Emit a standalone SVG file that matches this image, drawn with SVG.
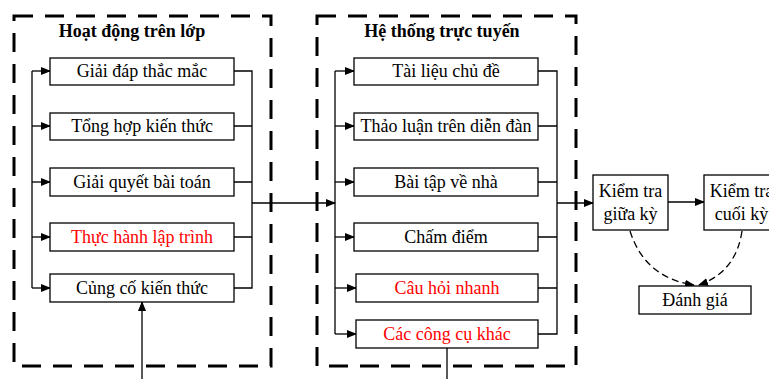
<svg xmlns="http://www.w3.org/2000/svg" width="769" height="379" viewBox="0 0 769 379">
<defs>
<marker id="ah" markerWidth="10" markerHeight="8" refX="9" refY="4" orient="auto" markerUnits="userSpaceOnUse">
<path d="M0,0 L10,4 L0,8 Z" fill="#000"/>
</marker>
<style>
.grp{fill:none;stroke:#000;stroke-width:3;stroke-dasharray:19 12}
.box{fill:#fff;stroke:#000;stroke-width:1.3}
.ln{fill:none;stroke:#000;stroke-width:1.3}
.dl{fill:none;stroke:#000;stroke-width:1.3;stroke-dasharray:7 4}
.t{font-family:"Liberation Serif","Times New Roman",serif;font-size:18px;fill:#000;text-anchor:middle}
.r{fill:#ff0000}
.h{font-family:"Liberation Serif","Times New Roman",serif;font-size:18px;font-weight:bold;fill:#000;text-anchor:middle}
</style>
</defs>
<rect width="769" height="379" fill="#fff"/>
<g id="group-lop">
<rect class="grp" x="14" y="16" width="257" height="350"/>
<text class="h" x="132" y="37">Hoạt động trên lớp</text>
</g>
<g id="group-online">
<rect class="grp" x="317" y="16" width="259" height="350"/>
<text class="h" x="442" y="37">Hệ thống trực tuyến</text>
</g>
<g id="connectors">
<path class="ln" d="M32,71 V288"/>
<path class="ln" d="M32,71 H50" marker-end="url(#ah)"/>
<path class="ln" d="M32,126 H50" marker-end="url(#ah)"/>
<path class="ln" d="M32,182 H50" marker-end="url(#ah)"/>
<path class="ln" d="M32,237 H50" marker-end="url(#ah)"/>
<path class="ln" d="M32,288 H50" marker-end="url(#ah)"/>
<path class="ln" d="M234,71 H252 V288 H234 M234,126 H252 M234,182 H252 M234,237 H252"/>
<path class="ln" d="M252,203 H335" marker-end="url(#ah)"/>
<path class="ln" d="M142,379 V302" marker-end="url(#ah)"/>
<path class="ln" d="M335,71 V334"/>
<path class="ln" d="M335,71 H354" marker-end="url(#ah)"/>
<path class="ln" d="M335,126 H354" marker-end="url(#ah)"/>
<path class="ln" d="M335,182 H354" marker-end="url(#ah)"/>
<path class="ln" d="M335,237 H354" marker-end="url(#ah)"/>
<path class="ln" d="M335,288 H356" marker-end="url(#ah)"/>
<path class="ln" d="M335,334 H356" marker-end="url(#ah)"/>
<path class="ln" d="M538,71 H557 V334 H538 M538,126 H557 M538,182 H557 M538,237 H557 M538,288 H557"/>
<path class="ln" d="M557,203 H593" marker-end="url(#ah)"/>
<path class="ln" d="M447,348 V379"/>
<path class="ln" d="M668,202 H704" marker-end="url(#ah)"/>
<path class="dl" d="M630,231 Q645,278 694,285" marker-end="url(#ah)"/>
<path class="dl" d="M742,231 Q736,272 699,285" marker-end="url(#ah)"/>
</g>
<g id="n-giai-dap"><rect class="box" x="50" y="58" width="184" height="27"/><text class="t" x="142" y="77">Giải đáp thắc mắc</text></g>
<g id="n-tong-hop"><rect class="box" x="50" y="113" width="184" height="27"/><text class="t" x="142" y="132">Tổng hợp kiến thức</text></g>
<g id="n-giai-quyet"><rect class="box" x="50" y="168" width="184" height="28"/><text class="t" x="142" y="188">Giải quyết bài toán</text></g>
<g id="n-thuc-hanh"><rect class="box" x="50" y="223" width="184" height="28"/><text class="t r" x="142" y="243">Thực hành lập trình</text></g>
<g id="n-cung-co"><rect class="box" x="50" y="274" width="184" height="28"/><text class="t" x="142" y="294">Củng cố kiến thức</text></g>
<g id="n-tai-lieu"><rect class="box" x="354" y="58" width="184" height="27"/><text class="t" x="446" y="77">Tài liệu chủ đề</text></g>
<g id="n-thao-luan"><rect class="box" x="354" y="113" width="184" height="27"/><text class="t" x="446" y="132">Thảo luận trên diễn đàn</text></g>
<g id="n-bai-tap"><rect class="box" x="354" y="168" width="184" height="28"/><text class="t" x="446" y="188">Bài tập về nhà</text></g>
<g id="n-cham-diem"><rect class="box" x="354" y="223" width="184" height="28"/><text class="t" x="446" y="243">Chấm điểm</text></g>
<g id="n-cau-hoi"><rect class="box" x="356" y="274" width="182" height="28"/><text class="t r" x="447" y="294">Câu hỏi nhanh</text></g>
<g id="n-cong-cu"><rect class="box" x="356" y="320" width="182" height="28"/><text class="t r" x="447" y="340">Các công cụ khác</text></g>
<g id="n-giua-ky"><rect class="box" x="593" y="175" width="75" height="55"/><text class="t" x="630.5" y="197">Kiểm tra</text><text class="t" x="630.5" y="220">giữa kỳ</text></g>
<g id="n-cuoi-ky"><rect class="box" x="704" y="175" width="75" height="55"/><text class="t" x="741.5" y="197">Kiểm tra</text><text class="t" x="741.5" y="220">cuối kỳ</text></g>
<g id="n-danh-gia"><rect class="box" x="639" y="286" width="112" height="28"/><text class="t" x="695" y="306">Đánh giá</text></g>
</svg>
